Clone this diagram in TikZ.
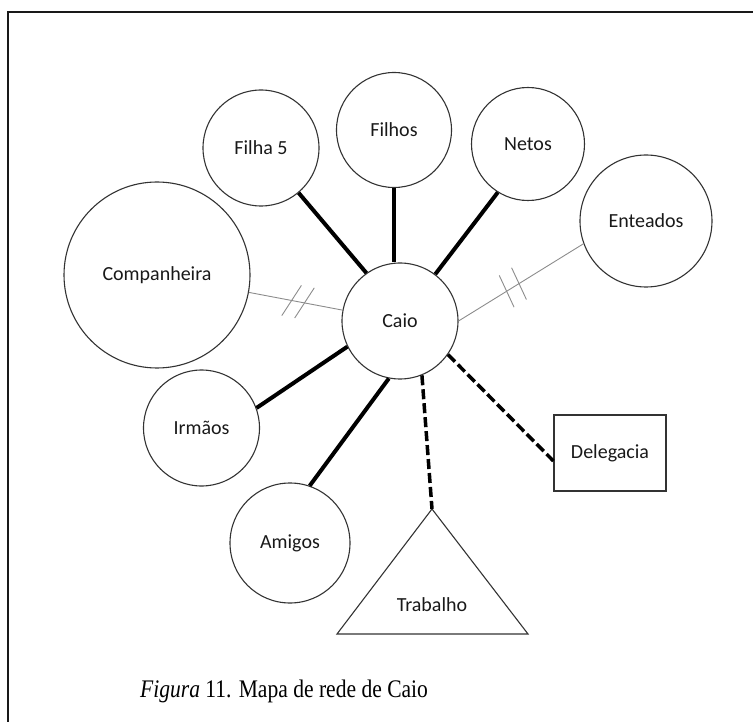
\documentclass[tikz,border=0pt]{standalone}
\usepackage{fontspec}
\setmainfont{Carlito}
\newfontfamily\capfont{Liberation Serif}
\usetikzlibrary{calc}
\begin{document}
\begin{tikzpicture}[x=1pt,y=-1pt,
  person/.style={circle,draw=black!80,line width=1.1pt,inner sep=0pt,
    text=black!90,font=\fontsize{20}{23}\selectfont},
  place/.style={rectangle,draw=black!80,line width=1.1pt,inner sep=0pt,
    text=black!90,font=\fontsize{20}{23}\selectfont},
  strong/.style={line width=4pt,black},
  weak/.style={line width=0.9pt,black!45},
  tense/.style={line width=3.5pt,black,dash pattern=on 10pt off 4pt},
  tick/.style={line width=0.9pt,black!45}]
\useasboundingbox (0,0) rectangle (753,722);
% frame
\draw[line width=1.5pt,black!90] (8,722) -- (8,12) -- (753,12);

% members of the network
\node[person,minimum size=116pt] (Caio) at (400,321) {Caio};
\node[person,minimum size=116pt] (Filha5) at (261,148) {Filha 5};
\node[person,minimum size=115pt] (Filhos) at (394,130) {Filhos};
\node[person,minimum size=113pt] (Netos) at (528,144) {Netos};
\node[person,minimum size=132pt] (Enteados) at (646,221) {Enteados};
\node[person,minimum size=186pt] (Companheira) at (157,275) {Companheira};
\node[person,minimum size=116pt] (Irmaos) at (201.5,428) {Irmãos};
\node[person,minimum size=120pt] (Amigos) at (290,543) {Amigos};
\node[place,minimum width=112pt,minimum height=76pt] (Delegacia) at (610,453) {Delegacia};

% work (triangle)
\coordinate (trabalhoTop) at (432,509);
\draw[black!80,line width=1.1pt] (trabalhoTop) -- (337,634) -- (528,634) -- cycle;
\node[text=black!90,font=\fontsize{20}{23}\selectfont] (Trabalho) at (432,605) {Trabalho};

% strong ties
\draw[strong] (Filha5.-50) -- (Caio.125);
\draw[strong] (Filhos.south) -- (Filhos.south |- Caio.north);
\draw[strong] (Netos.238) -- (Caio.53);
\draw[strong] (Irmaos.20) -- (Caio.206);
\draw[strong] (Amigos.71) -- (Caio.259);

% broken ties
\draw[weak] (Companheira) -- (Caio);
\foreach \t in {0.554,0.607}
  \draw[tick] ($(Companheira)!\t!(Caio)$) ++(57:-18pt) -- ++(57:36pt);
\draw[weak] (Caio.east) -- (Enteados.200);
\foreach \t in {0.385,0.484}
  \draw[tick] ($(Caio.east)!\t!(Enteados.200)$) ++(115:-17.5pt) -- ++(115:35pt);

% tense ties
\draw[tense] (Caio.-35) -- ([yshift=-8pt]Delegacia.west);
\draw[tense] (Caio.-68) -- (trabalhoTop);

% caption
\node[anchor=base west,inner sep=0pt,font=\capfont\fontsize{22}{26}\selectfont] (caption)
  at (140,697) {\scalebox{0.98}[1.15]{\textit{Figura} 11. Mapa de rede de Caio}};
\end{tikzpicture}
\end{document}
